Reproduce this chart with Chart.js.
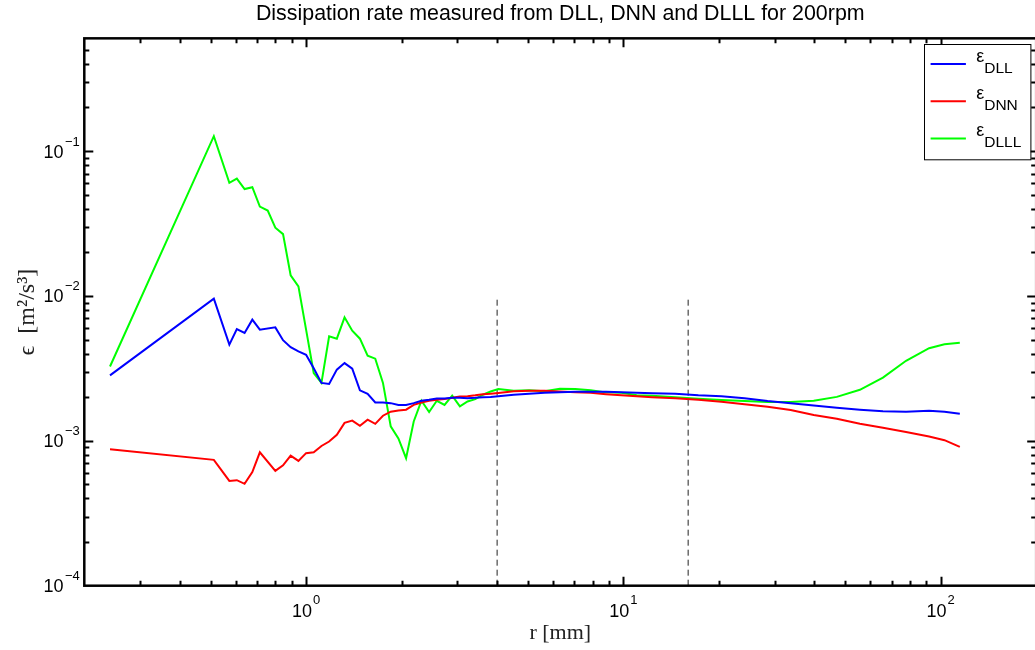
<!DOCTYPE html>
<html>
<head>
<meta charset="utf-8">
<script src="https://cdn.jsdelivr.net/npm/chart.js@4.4.1/dist/chart.umd.min.js"></script>
<style>
  html, body { margin: 0; padding: 0; background: #fff; overflow: hidden; }
  #contenedor_graf { width: 1040px; height: 650px; }
</style>
</head>
<body>
<div id="contenedor_graf"><canvas id="myChart" width="1040" height="650"></canvas></div>
<script>
// separation r [mm], shared by the three estimates
var r = [0.241, 0.512, 0.573, 0.605, 0.640, 0.677, 0.715, 0.757, 0.800, 0.846,
         0.894, 0.946, 1.000, 1.057, 1.118, 1.182, 1.250, 1.322, 1.398, 1.478,
         1.563, 1.652, 1.747, 1.848, 1.954, 2.066, 2.184, 2.310, 2.442, 2.582,
         2.731, 2.887, 3.053, 3.228, 3.413, 3.609, 3.816, 4.036, 4.513, 5.046,
         5.642, 6.308, 7.053, 7.886, 8.817, 9.860, 11.02, 12.32, 14.57, 17.23,
         20.37, 24.08, 28.48, 33.67, 39.80, 47.06, 55.64, 65.77, 77.77, 91.94,
         102.8, 114.9];

var epsDLL = [2.83e-3, 9.58e-3, 4.61e-3, 5.91e-3, 5.55e-3, 6.86e-3, 5.85e-3, null, 6.07e-3, 4.95e-3,
              4.43e-3, 4.14e-3, 3.93e-3, 3.17e-3, 2.51e-3, 2.47e-3, 3.10e-3, 3.44e-3, 3.15e-3, 2.23e-3,
              2.11e-3, 1.84e-3, 1.84e-3, 1.82e-3, 1.77e-3, 1.77e-3, 1.82e-3, 1.89e-3, 1.92e-3, 1.96e-3,
              1.96e-3, 1.98e-3, 1.98e-3, 1.97e-3, 1.98e-3, 2.00e-3, 2.01e-3, 2.03e-3, 2.08e-3, 2.11e-3,
              2.15e-3, 2.16e-3, 2.18e-3, 2.18e-3, 2.18e-3, 2.16e-3, 2.15e-3, 2.13e-3, 2.11e-3, 2.06e-3,
              2.03e-3, 1.97e-3, 1.88e-3, 1.82e-3, 1.75e-3, 1.69e-3, 1.64e-3, 1.60e-3, 1.59e-3, 1.61e-3,
              1.59e-3, 1.54e-3];

var epsDNN = [8.76e-4, 7.39e-4, 5.29e-4, 5.35e-4, 5.05e-4, 6.08e-4, 8.33e-4, null, 6.20e-4, 6.77e-4,
              7.91e-4, 7.27e-4, 8.22e-4, 8.33e-4, 9.21e-4, 9.89e-4, 1.10e-3, 1.33e-3, 1.38e-3, 1.27e-3,
              1.40e-3, 1.31e-3, 1.49e-3, 1.59e-3, 1.62e-3, 1.64e-3, 1.77e-3, 1.84e-3, 1.89e-3, 1.92e-3,
              1.94e-3, 1.98e-3, 2.02e-3, 2.03e-3, 2.06e-3, 2.10e-3, 2.11e-3, 2.14e-3, 2.20e-3, 2.22e-3,
              2.22e-3, 2.19e-3, 2.16e-3, 2.15e-3, 2.10e-3, 2.06e-3, 2.03e-3, 2.00e-3, 1.97e-3, 1.92e-3,
              1.86e-3, 1.79e-3, 1.72e-3, 1.63e-3, 1.51e-3, 1.42e-3, 1.31e-3, 1.23e-3, 1.15e-3, 1.07e-3,
              1.01e-3, 9.09e-4];

var epsDLLL = [3.26e-3, 0.1268, 0.0604, 0.0645, 0.0547, 0.0563, 0.0414, 0.0389, 0.0296, 0.0267,
               0.0139, 0.01165, 5.85e-3, 2.94e-3, 2.51e-3, 5.26e-3, 5.07e-3, 7.12e-3, 5.76e-3, 5.07e-3,
               3.87e-3, 3.69e-3, 2.51e-3, 1.26e-3, 1.04e-3, 7.59e-4, 1.36e-3, 1.89e-3, 1.58e-3, 1.89e-3,
               1.77e-3, 2.05e-3, 1.73e-3, 1.87e-3, 1.94e-3, 2.08e-3, 2.19e-3, 2.28e-3, 2.22e-3, 2.23e-3,
               2.20e-3, 2.29e-3, 2.28e-3, 2.23e-3, 2.16e-3, 2.15e-3, 2.06e-3, 2.05e-3, 2.00e-3, 1.95e-3,
               1.91e-3, 1.88e-3, 1.85e-3, 1.85e-3, 1.89e-3, 2.01e-3, 2.25e-3, 2.73e-3, 3.57e-3, 4.36e-3,
               4.64e-3, 4.76e-3];

var nombres = ['DLL', 'DNN', 'DLLL'];
var colores = ['#0000ff', '#ff0000', '#00ff00'];

// dashed reference lines
var marcaR = [4, 16];
var marcaEps = [1e-4, 1e-2];

var xLim = [0.2, 200];
var yLim = [1e-4, 0.6];
var xTickExp = [0, 1, 2];
var yTickExp = [-4, -3, -2, -1];

function puntos(ys) {
  var out = [];
  for (var i = 0; i < r.length; i++) out.push({x: r[i], y: ys[i]});
  return out;
}

function serie(label, ys, color) {
  return {label: label, data: puntos(ys), borderColor: color, backgroundColor: color,
          borderWidth: 2, pointRadius: 0, showLine: true, tension: 0, spanGaps: true};
}

var datasets = [
  serie(nombres[0], epsDLL, colores[0]),
  serie(nombres[1], epsDNN, colores[1]),
  serie(nombres[2], epsDLLL, colores[2])
];
marcaR.forEach(function(xv) {
  datasets.push({label: 'r = ' + xv, data: [{x: xv, y: marcaEps[0]}, {x: xv, y: marcaEps[1]}],
                 borderColor: '#222', borderWidth: 1, borderDash: [6, 4], pointRadius: 0, showLine: true});
});

function logTicks(min, max) {
  var out = [];
  for (var e = Math.floor(Math.log10(min)); e <= Math.ceil(Math.log10(max)); e++) {
    for (var m = 1; m <= 9; m++) {
      var v = m * Math.pow(10, e);
      if (v > min * 1.0001 && v < max * 0.9999) out.push({v: v, major: m === 1});
    }
  }
  return out;
}

var sansFont = '"Liberation Sans", Arial, Helvetica, sans-serif';

// axes box with inward ticks, power-of-ten labels and the legend
var marco = {
  id: 'marco',
  afterDatasetsDraw: function(chart) {
    var ctx = chart.ctx, a = chart.chartArea;
    var sx = chart.scales.x, sy = chart.scales.y;
    ctx.save();
    ctx.strokeStyle = '#000';
    ctx.lineWidth = 2;
    logTicks(xLim[0], xLim[1]).forEach(function(t) {
      var px = Math.round(sx.getPixelForValue(t.v)) + 0.5;
      var len = t.major ? 9 : 5;
      ctx.beginPath();
      ctx.moveTo(px, a.bottom); ctx.lineTo(px, a.bottom - len);
      ctx.moveTo(px, a.top); ctx.lineTo(px, a.top + len);
      ctx.stroke();
    });
    logTicks(yLim[0], yLim[1]).forEach(function(t) {
      var py = Math.round(sy.getPixelForValue(t.v)) + 0.5;
      var len = t.major ? 9 : 5;
      ctx.beginPath();
      ctx.moveTo(a.left, py); ctx.lineTo(a.left + len, py);
      ctx.moveTo(a.right, py); ctx.lineTo(a.right - len, py);
      ctx.stroke();
    });
    ctx.lineWidth = 2.5;
    ctx.strokeRect(a.left, a.top, a.right - a.left, a.bottom - a.top);

    // tick labels 10^n
    ctx.fillStyle = '#000';
    ctx.textBaseline = 'alphabetic';
    ctx.textAlign = 'left';
    xTickExp.forEach(function(e) {
      var px = sx.getPixelForValue(Math.pow(10, e));
      ctx.font = '18px ' + sansFont;
      var w1 = ctx.measureText('10').width;
      ctx.font = '13px ' + sansFont;
      var sup = String(e);
      var w2 = ctx.measureText(sup).width;
      var x0 = px - (w1 + 1 + w2) / 2;
      ctx.font = '18px ' + sansFont;
      ctx.fillText('10', x0, a.bottom + 31);
      ctx.font = '13px ' + sansFont;
      ctx.fillText(sup, x0 + w1 + 1, a.bottom + 18);
    });
    yTickExp.forEach(function(e) {
      var py = sy.getPixelForValue(Math.pow(10, e));
      var sup = '\u2212' + String(-e);
      ctx.font = '18px ' + sansFont;
      var w1 = ctx.measureText('10').width;
      ctx.fillText('10', 63.5 - w1, py + 6.5);
      ctx.font = '13px ' + sansFont;
      ctx.fillText(sup, 65, py - 5.5);
    });

    // legend
    var bx = a.right - 112, by = a.top + 5.7, bw = 106.4, bh = 115.3;
    ctx.fillStyle = '#fff';
    ctx.fillRect(bx, by, bw, bh);
    ctx.lineWidth = 1;
    ctx.strokeStyle = '#000';
    ctx.strokeRect(Math.round(bx) + 0.5, Math.round(by) + 0.5, bw, bh);
    for (var i = 0; i < 3; i++) {
      var ds = chart.data.datasets[i];
      var ly = by + 20 + i * 37.2;
      ctx.strokeStyle = ds.borderColor;
      ctx.lineWidth = 2;
      ctx.beginPath();
      ctx.moveTo(bx + 6.4, ly); ctx.lineTo(bx + 41.7, ly);
      ctx.stroke();
      ctx.fillStyle = '#000';
      ctx.font = '18px ' + sansFont;
      ctx.fillText('\u03b5', bx + 52, ly - 2);
      var we = ctx.measureText('\u03b5').width;
      ctx.font = '15.5px ' + sansFont;
      ctx.fillText(ds.label, bx + 52 + we, ly + 9);
    }
    ctx.restore();
  }
};

var ctx = document.getElementById('myChart');
var myChart = new Chart(ctx, {
  type: 'scatter',
  data: {datasets: datasets},
  options: {
    responsive: false,
    animation: false,
    events: [],
    layout: {padding: {left: 0, right: 3.8, top: 0, bottom: 0}},
    plugins: {
      legend: {display: false},
      tooltip: {enabled: false},
      title: {
        display: true,
        fullSize: false,
        text: 'Dissipation rate measured from DLL, DNN and DLLL for 200rpm',
        color: '#000',
        font: {family: sansFont, size: 21.4, weight: 'normal', lineHeight: 1.1},
        padding: {top: 2, bottom: 12.8}
      }
    },
    scales: {
      x: {
        type: 'logarithmic', position: 'bottom', min: xLim[0], max: xLim[1],
        grid: {display: false}, border: {display: false}, ticks: {display: false},
        title: {display: true, text: 'r [mm]', color: '#222',
                font: {family: '"Liberation Serif", "Times New Roman", serif', size: 22, weight: 'normal'},
                padding: {top: 0, bottom: 3.8}},
        afterFit: function(scale) { scale.height = 64.3; }
      },
      y: {
        type: 'logarithmic', position: 'left', min: yLim[0], max: yLim[1],
        grid: {display: false}, border: {display: false}, ticks: {display: false},
        title: {display: true, text: '\u03f5  [m\u00b2/s\u00b3]', color: '#222',
                font: {family: '"Liberation Serif", "DejaVu Serif", serif', size: 24, weight: 'normal'},
                padding: {top: 13, bottom: 0}},
        afterFit: function(scale) { scale.width = 84.3; }
      }
    }
  },
  plugins: [marco]
});
</script>
</body>
</html>
